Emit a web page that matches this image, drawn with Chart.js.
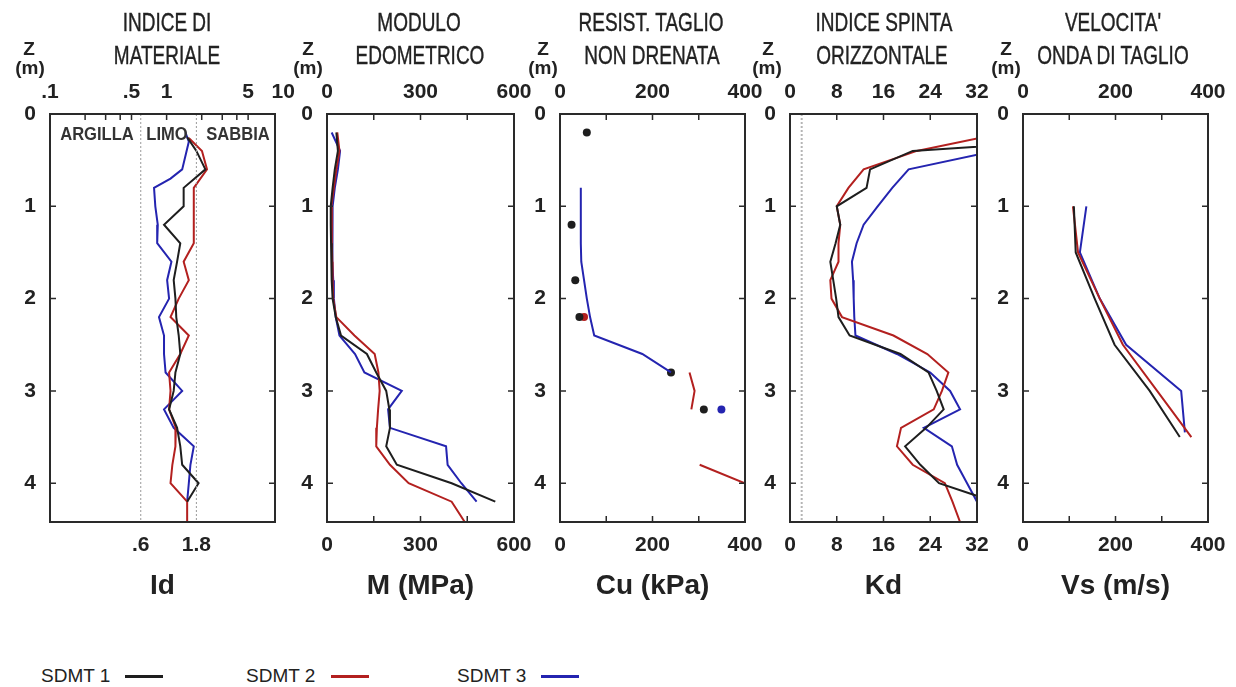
<!DOCTYPE html>
<html>
<head>
<meta charset="utf-8">
<script src="https://cdn.jsdelivr.net/npm/chart.js@4.4.1/dist/chart.umd.min.js"></script>
<style>
  body { margin: 0; background: #fff; width: 1236px; height: 687px; position: relative; overflow: hidden; }
  canvas { position: absolute; top: 0; }
  .t { position: absolute; transform: translate(-50%, -50%) scaleX(0.76); white-space: nowrap; color: #222;
       font: 25px 'Liberation Sans', sans-serif; -webkit-text-stroke: 0.4px #222; }
  .z { position: absolute; transform: translate(-50%, -50%); color: #222; font: bold 19px 'Liberation Sans', sans-serif; }
  .zone { position: absolute; transform: translate(-50%, -50%) scaleX(0.92); color: #333; font: bold 18px 'Liberation Sans', sans-serif; white-space: nowrap; }
  .leg { position: absolute; top: 676px; transform: translateY(-50%); font: 19px 'Liberation Sans', sans-serif; color: #222; }
  .legline { position: absolute; top: 675px; height: 3px; }
</style>
</head>
<body>
<canvas id="p1" width="300" height="610" style="left:0px"></canvas>
<canvas id="p2" width="262" height="610" style="left:277px"></canvas>
<canvas id="p3" width="260" height="610" style="left:510px"></canvas>
<canvas id="p4" width="262" height="610" style="left:740px"></canvas>
<canvas id="p5" width="260" height="610" style="left:973px"></canvas>

<div class="t" style="left:167px;top:22px">INDICE DI</div>
<div class="t" style="left:167px;top:55px">MATERIALE</div>
<div class="t" style="left:419px;top:22px">MODULO</div>
<div class="t" style="left:420px;top:55px">EDOMETRICO</div>
<div class="t" style="left:651px;top:22px">RESIST. TAGLIO</div>
<div class="t" style="left:652px;top:55px">NON DRENATA</div>
<div class="t" style="left:884px;top:22px">INDICE SPINTA</div>
<div class="t" style="left:882px;top:55px">ORIZZONTALE</div>
<div class="t" style="left:1113px;top:22px">VELOCITA'</div>
<div class="t" style="left:1113px;top:55px">ONDA DI TAGLIO</div>

<div class="z" style="left:29px;top:49px">Z</div><div class="z" style="left:30px;top:68px">(m)</div>
<div class="z" style="left:308px;top:49px">Z</div><div class="z" style="left:308px;top:68px">(m)</div>
<div class="z" style="left:543px;top:49px">Z</div><div class="z" style="left:543px;top:68px">(m)</div>
<div class="z" style="left:768px;top:49px">Z</div><div class="z" style="left:767px;top:68px">(m)</div>
<div class="z" style="left:1006px;top:49px">Z</div><div class="z" style="left:1006px;top:68px">(m)</div>

<div class="zone" style="left:97px;top:134px">ARGILLA</div>
<div class="zone" style="left:167px;top:134px">LIMO</div>
<div class="zone" style="left:238px;top:134px">SABBIA</div>

<div class="leg" style="left:41px">SDMT 1</div><div class="legline" style="left:125px;width:38px;background:#1e1e1e"></div>
<div class="leg" style="left:246px">SDMT 2</div><div class="legline" style="left:331px;width:38px;background:#b3201f"></div>
<div class="leg" style="left:457px">SDMT 3</div><div class="legline" style="left:541px;width:38px;background:#2424b0"></div>

<script>
// depth axis (m)
const DEPTH_MAX = 4.42;
const DEPTH_TICKS = [0, 1, 2, 3, 4];

// Indice di materiale Id
const ID_Z1 = [0.25, 0.4, 0.6, 0.8, 1.0, 1.2, 1.4, 1.6, 1.8, 2.0, 2.2, 2.4, 2.6, 2.8, 3.0, 3.2, 3.4, 3.6, 3.8, 4.0, 4.2];
const ID_SDMT1 = [1.50, 1.80, 2.15, 1.40, 1.40, 0.95, 1.31, 1.23, 1.15, 1.19, 1.21, 1.27, 1.31, 1.19, 1.15, 1.05, 1.23, 1.31, 1.36, 1.88, 1.50];
const ID_Z2 = [0.26, 0.4, 0.6, 0.8, 1.0, 1.2, 1.4, 1.6, 1.8, 2.0, 2.2, 2.4, 2.6, 2.8, 3.0, 3.2, 3.4, 3.6, 3.8, 4.0, 4.2, 4.42];
const ID_SDMT2 = [1.55, 2.01, 2.22, 1.71, 1.71, 1.71, 1.71, 1.40, 1.55, 1.27, 1.08, 1.55, 1.31, 1.05, 1.08, 1.05, 1.20, 1.19, 1.12, 1.08, 1.50, 1.50];
const ID_Z3 = [0.2, 0.3, 0.6, 0.7, 0.8, 1.0, 1.2, 1.4, 1.6, 1.8, 2.0, 2.2, 2.4, 2.6, 2.8, 3.0, 3.2, 3.4, 3.6, 3.8, 4.0, 4.2];
const ID_SDMT3 = [1.45, 1.55, 1.36, 1.08, 0.78, 0.80, 0.84, 0.83, 1.10, 1.01, 1.05, 0.86, 0.95, 0.95, 0.98, 1.36, 0.95, 1.15, 1.71, 1.60, 1.55, 1.50];
const ID_BOUNDS = [0.6, 1.8];
const ID_TOP_LABELS = [0.1, 0.5, 1, 5, 10];
const ID_TOP_MARKS = [0.2, 0.3, 0.4, 0.5, 1, 2, 3, 4, 5];

// Modulo edometrico M (MPa)
const M_Z = [0.2, 0.4, 0.6, 0.8, 1.0, 1.2, 1.4, 1.6, 1.8, 2.0, 2.2, 2.4, 2.6, 2.8, 3.0, 3.2, 3.4, 3.6, 3.8, 4.0, 4.2];
const M_Z2 = [0.2, 0.4, 0.6, 0.8, 1.0, 1.2, 1.4, 1.6, 1.8, 2.0, 2.2, 2.4, 2.6, 2.8, 3.0, 3.2, 3.4, 3.6, 3.8, 4.0, 4.2, 4.42];
const M_SDMT1 = [30, 35, 25, 18, 12, 12, 13, 14, 16, 18, 28, 45, 128, 158, 190, 200, 202, 190, 224, 400, 540];
const M_SDMT2 = [33, 40, 30, 22, 14, 15, 16, 17, 18, 20, 30, 88, 153, 165, 169, 164, 160, 158, 202, 262, 400, 442];
const M_SDMT3 = [15, 42, 35, 25, 18, 17, 17, 18, 20, 22, 28, 40, 90, 120, 240, 196, 202, 382, 387, 431, 480];
const M_LABELS = [0, 300, 600];
const M_MARKS = [150, 300, 450];

// Resistenza al taglio non drenata Cu (kPa)
const CU_DOT_Z1 = [0.2, 1.2, 1.8, 2.2, 2.8, 3.2];
const CU_DOT_SDMT1 = [58, 25, 33, 42, 240, 311];
const CU_DOT_Z2 = [2.2];
const CU_DOT_SDMT2 = [52];
const CU_DOT_Z3 = [3.2];
const CU_DOT_SDMT3 = [349];
const CU_Z2 = [2.8, 3.0, 3.2, 3.5, 3.8, 4.0];
const CU_SDMT2 = [280, 291, 284, null, 302, 400];
const CU_Z3 = [0.8, 1.0, 1.2, 1.4, 1.6, 1.8, 2.0, 2.2, 2.4, 2.6, 2.8];
const CU_SDMT3 = [45, 45, 45, 45, 46, 52, 58, 65, 74, 178, 240];
const CU_LABELS = [0, 200, 400];
const CU_MARKS = [100, 200, 300];

// Indice spinta orizzontale Kd
const KD_Z = [0.2, 0.4, 0.6, 0.8, 1.0, 1.2, 1.4, 1.6, 1.8, 2.0, 2.2, 2.4, 2.6, 2.8, 3.0, 3.2, 3.4, 3.6, 3.8, 4.0, 4.2];
const KD_Z2 = [0.2, 0.4, 0.6, 0.8, 1.0, 1.2, 1.4, 1.6, 1.8, 2.0, 2.2, 2.4, 2.6, 2.8, 3.0, 3.2, 3.4, 3.6, 3.8, 4.0, 4.2, 4.42];
const KD_Z3 = [0.4, 0.6, 0.8, 1.0, 1.2, 1.4, 1.6, 1.8, 2.0, 2.2, 2.4, 2.6, 2.8, 3.0, 3.2, 3.4, 3.6, 3.8, 4.0, 4.2];
const KD_SDMT1 = [70, 21, 13.7, 13.1, 8.0, 8.6, 7.8, 6.9, 7.4, 7.9, 8.3, 10.2, 18.9, 23.7, 25.1, 26.3, 23.3, 19.7, 22.3, 25.5, 35];
const KD_SDMT2 = [37, 21.7, 12.6, 10, 8.0, 8.6, 8.3, 8.3, 6.9, 7.1, 8.9, 17.7, 23.5, 27.1, 26, 24.6, 19, 18.3, 21, 26.5, 27.8, 29.1];
const KD_SDMT3 = [35, 20.3, 17.5, 15, 12.6, 11.4, 10.6, 10.8, 10.9, 11, 11.2, 18.3, 24, 27.4, 29.1, 22.9, 27.7, 28.6, 30.3, 32];
const KD_REF = 2;
const KD_LABELS = [0, 8, 16, 24, 32];
const KD_MARKS = [8, 16, 24];

// Velocita' onda di taglio Vs (m/s)
const VS_Z1 = [1.0, 1.5, 2.0, 2.5, 3.0, 3.5];
const VS_SDMT1 = [110, 114, 155, 198, 274, 339];
const VS_Z2 = [1.0, 1.5, 2.0, 2.5, 3.0, 3.5];
const VS_SDMT2 = [108, 119, 166, 216, 290, 364];
const VS_Z3 = [1.0, 1.5, 2.0, 2.5, 3.0, 3.45];
const VS_SDMT3 = [137, 123, 166, 223, 342, 350];
const VS_LABELS = [0, 200, 400];
const VS_MARKS = [100, 200, 300];

const BLACK = '#1e1e1e', RED = '#b3201f', BLUE = '#2424b0';
const H = 610, TOP = 114, BOTTOM = 522, LEFT = 50;

Chart.defaults.font.family = "'Liberation Sans', Arial, sans-serif";
Chart.defaults.color = '#222';

const pts = (z, v) => z.map((d, i) => ({ x: v[i], y: d }));
const fmt = v => String(v).replace(/^0\./, '.');

const line = (z, v, color) => ({ data: pts(z, v), showLine: true, borderColor: color, borderWidth: 2, pointRadius: 0 });
const dots = (z, v, color) => ({ data: pts(z, v), showLine: false, pointRadius: 4, pointBackgroundColor: color, pointBorderWidth: 0 });
const refLine = (x, color, width) => ({ data: [{ x, y: 0 }, { x, y: DEPTH_MAX }], showLine: true, borderColor: color, borderWidth: width, borderDash: [2, 2], pointRadius: 0 });

// box and inward tick marks
const frame = {
  id: 'frame',
  afterDatasetsDraw(chart, args, opts) {
    const { ctx, chartArea: a, scales } = chart;
    ctx.save();
    ctx.strokeStyle = '#2a2a2a';
    ctx.lineWidth = 2;
    ctx.strokeRect(a.left, a.top, a.right - a.left, a.bottom - a.top);
    ctx.lineWidth = 1.5;
    ctx.beginPath();
    (opts.top || []).forEach(v => {
      const px = scales.x.getPixelForValue(v);
      ctx.moveTo(px, a.top); ctx.lineTo(px, a.top + 6);
    });
    (opts.bottom || []).forEach(v => {
      const px = scales.x.getPixelForValue(v);
      ctx.moveTo(px, a.bottom); ctx.lineTo(px, a.bottom - 6);
    });
    [1, 2, 3, 4].forEach(v => {
      const py = scales.y.getPixelForValue(v);
      ctx.moveTo(a.left, py); ctx.lineTo(a.left + 6, py);
      ctx.moveTo(a.right, py); ctx.lineTo(a.right - 6, py);
    });
    ctx.stroke();
    ctx.restore();
  }
};

function makePanel(id, type, min, max, topLabels, botLabels, marks, title, datasets) {
  const tickFont = { size: 21, weight: 'bold' };
  const base = { type, min, max, grid: { display: false, drawTicks: false }, border: { display: false } };
  const canvas = document.getElementById(id);
  const boxW = { p1: 225, p2: 187, p3: 185, p4: 187, p5: 185 }[id];
  new Chart(canvas, {
    type: 'scatter',
    data: { datasets },
    options: {
      responsive: false,
      animation: false,
      layout: { padding: { left: 0, top: 0, bottom: 0, right: canvas.width - LEFT - boxW } },
      plugins: { legend: { display: false }, tooltip: { enabled: false }, frame: marks },
      scales: {
        x: {
          ...base, position: 'top',
          afterBuildTicks: s => { s.ticks = topLabels.map(v => ({ value: v })); },
          ticks: { autoSkip: false, maxRotation: 0, padding: 9, font: tickFont, callback: fmt },
          afterFit: s => { s.height = TOP; s.paddingLeft = 0; s.paddingRight = 0; }
        },
        x2: {
          ...base, position: 'bottom',
          afterBuildTicks: s => { s.ticks = botLabels.map(v => ({ value: v })); },
          ticks: { autoSkip: false, maxRotation: 0, padding: 11, font: tickFont, callback: fmt },
          title: { display: true, text: title, font: { size: 28, weight: 'bold' }, padding: { top: 0, bottom: 7 } },
          afterFit: s => { s.height = H - BOTTOM; s.paddingLeft = 0; s.paddingRight = 0; }
        },
        y: {
          type: 'linear', position: 'left', reverse: true, min: 0, max: DEPTH_MAX,
          grid: { display: false, drawTicks: false }, border: { display: false },
          afterBuildTicks: s => { s.ticks = DEPTH_TICKS.map(v => ({ value: v })); },
          ticks: { autoSkip: false, padding: 14, font: tickFont },
          afterFit: s => { s.width = LEFT; s.paddingTop = 0; s.paddingBottom = 0; }
        }
      }
    },
    plugins: [frame]
  });
}

makePanel('p1', 'logarithmic', 0.1, 8.5, ID_TOP_LABELS, ID_BOUNDS, { top: ID_TOP_MARKS }, 'Id', [
  refLine(ID_BOUNDS[0], '#9a9a9a', 1),
  refLine(ID_BOUNDS[1], '#9a9a9a', 1),
  line(ID_Z1, ID_SDMT1, BLACK),
  line(ID_Z2, ID_SDMT2, RED),
  line(ID_Z3, ID_SDMT3, BLUE)
]);

makePanel('p2', 'linear', 0, 600, M_LABELS, M_LABELS, { top: M_MARKS, bottom: M_MARKS }, 'M (MPa)', [
  line(M_Z, M_SDMT1, BLACK),
  line(M_Z2, M_SDMT2, RED),
  line(M_Z, M_SDMT3, BLUE)
]);

makePanel('p3', 'linear', 0, 400, CU_LABELS, CU_LABELS, { top: CU_MARKS, bottom: CU_MARKS }, 'Cu (kPa)', [
  line(CU_Z3, CU_SDMT3, BLUE),
  line(CU_Z2, CU_SDMT2, RED),
  dots(CU_DOT_Z1, CU_DOT_SDMT1, BLACK),
  dots(CU_DOT_Z2, CU_DOT_SDMT2, RED),
  dots(CU_DOT_Z3, CU_DOT_SDMT3, BLUE)
]);

makePanel('p4', 'linear', 0, 32, KD_LABELS, KD_LABELS, { top: KD_MARKS, bottom: KD_MARKS }, 'Kd', [
  refLine(KD_REF, '#b5b5b5', 2),
  line(KD_Z, KD_SDMT1, BLACK),
  line(KD_Z2, KD_SDMT2, RED),
  line(KD_Z3, KD_SDMT3, BLUE)
]);

makePanel('p5', 'linear', 0, 400, VS_LABELS, VS_LABELS, { top: VS_MARKS, bottom: VS_MARKS }, 'Vs (m/s)', [
  line(VS_Z1, VS_SDMT1, BLACK),
  line(VS_Z2, VS_SDMT2, RED),
  line(VS_Z3, VS_SDMT3, BLUE)
]);
</script>
</body>
</html>
